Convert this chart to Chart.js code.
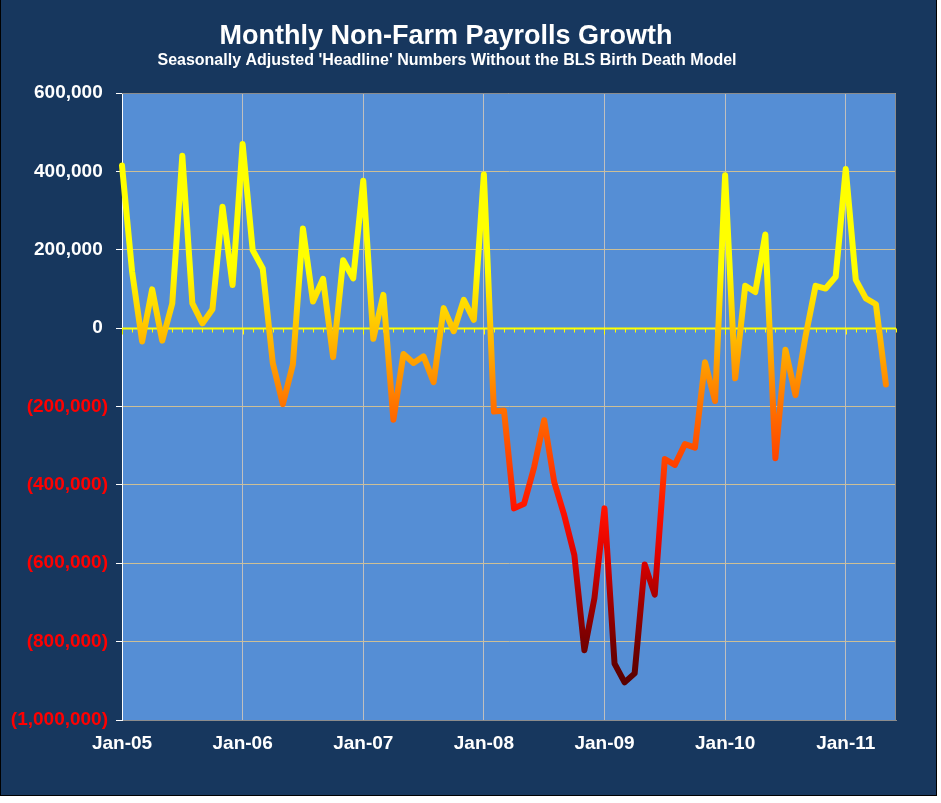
<!DOCTYPE html>
<html>
<head>
<meta charset="utf-8">
<script src="https://cdn.jsdelivr.net/npm/chart.js@4/dist/chart.umd.min.js"></script>
<style>
  html, body { margin: 0; padding: 0; background: #ffffff; }
  #wrap { position: absolute; left: 0; top: 0; width: 935px; height: 795px;
          border-left: 1px solid #000; border-right: 1px solid #000; border-bottom: 1px solid #000;
          background: #17375E; }
  canvas { display: block; }
</style>
</head>
<body>
<div id="wrap"><canvas id="c" width="935" height="795"></canvas></div>
<script>
// ---- data ----
const categories = [
  'Jan-05','Feb-05','Mar-05','Apr-05','May-05','Jun-05','Jul-05','Aug-05','Sep-05','Oct-05','Nov-05','Dec-05',
  'Jan-06','Feb-06','Mar-06','Apr-06','May-06','Jun-06','Jul-06','Aug-06','Sep-06','Oct-06','Nov-06','Dec-06',
  'Jan-07','Feb-07','Mar-07','Apr-07','May-07','Jun-07','Jul-07','Aug-07','Sep-07','Oct-07','Nov-07','Dec-07',
  'Jan-08','Feb-08','Mar-08','Apr-08','May-08','Jun-08','Jul-08','Aug-08','Sep-08','Oct-08','Nov-08','Dec-08',
  'Jan-09','Feb-09','Mar-09','Apr-09','May-09','Jun-09','Jul-09','Aug-09','Sep-09','Oct-09','Nov-09','Dec-09',
  'Jan-10','Feb-10','Mar-10','Apr-10','May-10','Jun-10','Jul-10','Aug-10','Sep-10','Oct-10','Nov-10','Dec-10',
  'Jan-11','Feb-11','Mar-11','Apr-11','May-11','Jun-11'
];
const payrolls = [
  415000, 145000, -34000, 99000, -32000, 63000, 440000, 63000, 12000, 48000, 310000, 110000,
  470000, 199000, 152000, -89000, -194000, -93000, 254000, 68000, 126000, -74000, 173000, 127000,
  376000, -27000, 85000, -234000, -66000, -89000, -72000, -138000, 51000, -8000, 72000, 21000,
  392000, -213000, -210000, -460000, -448000, -355000, -235000, -393000, -478000, -579000, -822000, -689000,
  -460000, -856000, -904000, -881000, -603000, -680000, -334000, -349000, -296000, -305000, -87000, -186000,
  390000, -128000, 108000, 92000, 239000, -332000, -55000, -171000, -21000, 108000, 101000, 131000,
  406000, 123000, 76000, 61000, -144000
];
const yTicks = [600000, 400000, 200000, 0, -200000, -400000, -600000, -800000, -1000000];
const titleText = 'Monthly Non-Farm Payrolls Growth';
const subtitleText = "Seasonally Adjusted 'Headline' Numbers Without the BLS Birth Death Model";
// colour ramp: value -> colour
const rampValues = [600000, 150000, 0, -200000, -350000, -470000, -600000, -700000, -820000, -1000000];
const rampColors = ['#FFFF00', '#FFFF00', '#FFC400', '#FF7200', '#FF4000', '#FF1000', '#D80000', '#A00000', '#700000', '#400000'];

const FONT = '"Liberation Sans", Arial, Helvetica, sans-serif';

function fmt(v) {
  const s = Math.abs(v).toLocaleString('en-US');
  return v < 0 ? '(' + s + ')' : s + ' ';
}

const decorPlugin = {
  id: 'decor',
  beforeDraw(chart) {
    const { ctx, chartArea: a } = chart;
    ctx.save();
    ctx.fillStyle = '#558ED5';
    ctx.fillRect(a.left, a.top, a.right - a.left, a.bottom - a.top);
    ctx.restore();
  },
  beforeDatasetsDraw(chart) {
    const { ctx, chartArea: a, scales } = chart;
    const x = scales.x, y = scales.y;
    ctx.save();
    // plot border (top/right)
    ctx.strokeStyle = '#8C8C8C';
    ctx.lineWidth = 1;
    ctx.beginPath();
    ctx.moveTo(a.left, a.top + 0.5);
    ctx.lineTo(a.right - 0.5, a.top + 0.5);
    ctx.lineTo(a.right - 0.5, a.bottom);
    ctx.stroke();
    // zero line with month ticks
    const y0 = Math.round(y.getPixelForValue(0)) + 0.5;
    ctx.strokeStyle = '#FFFF00';
    ctx.lineWidth = 2;
    ctx.beginPath();
    ctx.moveTo(a.left, y0);
    ctx.lineTo(a.right, y0);
    ctx.stroke();
    ctx.lineWidth = 1;
    ctx.beginPath();
    for (let i = 0; i < categories.length; i++) {
      const px = Math.round(x.getPixelForValue(i)) + 0.5;
      const len = (i % 12 === 0) ? 6 : 4;
      ctx.moveTo(px, y0);
      ctx.lineTo(px, y0 + len);
    }
    ctx.stroke();
    ctx.restore();
  },
  afterDraw(chart) {
    const { ctx } = chart;
    ctx.save();
    ctx.fillStyle = '#FFFFFF';
    ctx.textAlign = 'center';
    ctx.textBaseline = 'alphabetic';
    ctx.font = 'bold 27px ' + FONT;
    ctx.fillText(titleText, 445, 44);
    ctx.font = 'bold 16px ' + FONT;
    ctx.fillText(subtitleText, 446, 65);
    ctx.restore();
  }
};

function lineGradient(context) {
  const chart = context.chart;
  const { ctx, chartArea, scales } = chart;
  if (!chartArea) return '#FFFF00';
  const y = scales.y;
  const top = y.getPixelForValue(600000);
  const bot = y.getPixelForValue(-1000000);
  const g = ctx.createLinearGradient(0, top, 0, bot);
  for (let i = 0; i < rampValues.length; i++) {
    g.addColorStop((600000 - rampValues[i]) / 1600000, rampColors[i]);
  }
  return g;
}

new Chart(document.getElementById('c'), {
  type: 'line',
  data: {
    labels: categories,
    datasets: [{
      data: payrolls,
      borderColor: lineGradient,
      borderWidth: 6,
      borderJoinStyle: 'round',
      borderCapStyle: 'round',
      pointRadius: 0,
      tension: 0,
      fill: false
    }]
  },
  options: {
    responsive: false,
    animation: false,
    devicePixelRatio: 1,
    layout: { padding: { top: 93, right: 40, left: 0, bottom: 0 } },
    plugins: { legend: { display: false }, title: { display: false }, tooltip: { enabled: false } },
    scales: {
      x: {
        type: 'category',
        offset: false,
        border: { display: true, color: '#8C8C8C', width: 1 },
        grid: {
          drawTicks: false,
          color: (c) => (c.index % 12 === 0 && c.index !== 0) ? '#BFBFBF' : 'rgba(0,0,0,0)',
          lineWidth: 1
        },
        ticks: {
          autoSkip: false,
          maxRotation: 0,
          padding: 12,
          color: '#FFFFFF',
          font: { family: FONT, size: 19, weight: 'bold' },
          callback: function (v, i) { return (i % 12 === 0) ? categories[i] : ''; }
        },
        afterFit: (s) => { s.height = 75; }
      },
      y: {
        min: -1000000,
        max: 600000,
        afterBuildTicks: (s) => { s.ticks = yTicks.map(v => ({ value: v })); },
        border: { display: true, color: '#FFFFFF', width: 1 },
        grid: {
          color: (c) => c.tick && c.tick.value === 0 ? 'rgba(0,0,0,0)' : '#CDBF96',
          tickColor: '#FFFFFF',
          tickLength: 6,
          lineWidth: 1
        },
        ticks: {
          padding: 8,
          color: (c) => c.tick && c.tick.value < 0 ? '#FF0000' : '#FFFFFF',
          font: { family: FONT, size: 19, weight: 'bold' },
          callback: (v) => fmt(v)
        },
        afterFit: (s) => { s.width = 121; }
      }
    }
  },
  plugins: [decorPlugin]
});
</script>
</body>
</html>
